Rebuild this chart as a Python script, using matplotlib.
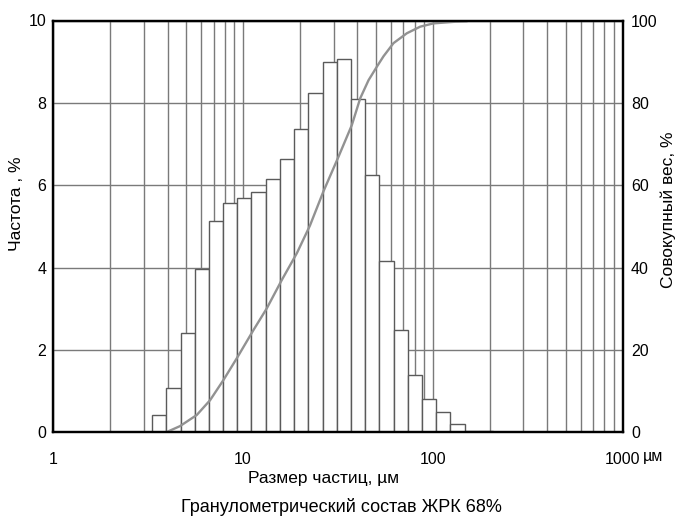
import numpy as np
import matplotlib.pyplot as plt
from matplotlib.ticker import FixedLocator, NullFormatter

plt.rcParams['font.family'] = ['Liberation Sans', 'DejaVu Sans']

# границы классов, мкм
bin_edges = [3.31, 3.94, 4.68, 5.56, 6.60, 7.84, 9.32, 11.07, 13.15, 15.63, 18.57,
             22.06, 26.21, 31.13, 36.98, 43.94, 52.20, 62.02, 73.68, 87.54, 104.0,
             123.6, 146.8, 174.4, 207.2]
# частота, %
freq = [0.43, 1.07, 2.42, 3.96, 5.14, 5.58, 5.70, 5.84, 6.16, 6.63, 7.37, 8.23,
        8.99, 9.07, 8.10, 6.25, 4.15, 2.48, 1.38, 0.80, 0.50, 0.19, 0.04, 0.03]

# совокупный вес, %
cum_size = [3.93, 4.65, 5.70, 6.70, 7.88, 9.27, 11.33, 13.33, 16.0, 19.2, 22.5,
            26.5, 31.8, 37.4, 41.4, 45.8, 50.7, 54.9, 62.0, 72.9, 85.7, 100.7, 131.2, 150.0]
cum_val = [0.0, 1.5, 4.2, 7.8, 12.7, 18.0, 24.8, 30.1, 37.0, 43.5, 50.2,
           58.5, 66.9, 74.6, 81.1, 85.5, 88.8, 91.3, 94.5, 96.9, 98.5, 99.3, 99.7, 99.8]

fig = plt.figure(figsize=(6.77, 5.24), dpi=100)
ax = fig.add_axes([53.3 / 677, 1 - 432.3 / 524, (622.7 - 53.3) / 677, (432.3 - 20.5) / 524])

edges = np.array(bin_edges)
ax.bar(edges[:-1], freq, width=np.diff(edges), align='edge', color='white',
       edgecolor='#5a5a5a', linewidth=1.0, zorder=2)

ax.set_xscale('log')
ax.set_xlim(1, 1000)
ax.set_ylim(0, 10)
ax.set_axisbelow(True)
ax.xaxis.set_major_locator(FixedLocator([1, 10, 100, 1000]))
ax.set_xticklabels(['1', '10', '100', '1000'])
ax.xaxis.set_minor_locator(FixedLocator([m * d for d in (1, 10, 100) for m in range(2, 10)]))
ax.xaxis.set_minor_formatter(NullFormatter())
ax.set_yticks([0, 2, 4, 6, 8, 10])
ax.grid(True, which='both', axis='x', color='#7a7a7a', linewidth=1.0)
ax.grid(True, which='major', axis='y', color='#7a7a7a', linewidth=1.0)
ax.tick_params(axis='x', which='both', length=0, pad=14, labelsize=11.5)
ax.tick_params(axis='y', length=0, pad=5, labelsize=11.5)

ax2 = ax.twinx()
ax2.plot(cum_size, cum_val, color='#929292', linewidth=1.7)
ax2.set_ylim(0, 100)
ax2.set_yticks([0, 20, 40, 60, 80, 100])
ax2.tick_params(axis='y', length=0, pad=6, labelsize=11.5)

for a in (ax, ax2):
    for s in a.spines.values():
        s.set_linewidth(1.6)
        s.set_color('black')

fig.text(643 / 677, 1 - 456 / 524, 'µм', fontsize=11.5, ha='left', va='center')
fig.text(17 / 677, 1 - 204 / 524, 'Частота , %', rotation=90, fontsize=12.5, ha='center', va='center')
fig.text(668 / 677, 1 - 210 / 524, 'Совокупный вес, %', rotation=90, fontsize=12.5, ha='center', va='center')
fig.text(324 / 677, 1 - 478 / 524, 'Размер частиц, µм', fontsize=12.5, ha='center', va='center')
fig.text(341 / 677, 1 - 507 / 524, 'Гранулометрический состав ЖРК 68%', fontsize=13, ha='center', va='center')

fig.savefig('out.png', dpi=100)
